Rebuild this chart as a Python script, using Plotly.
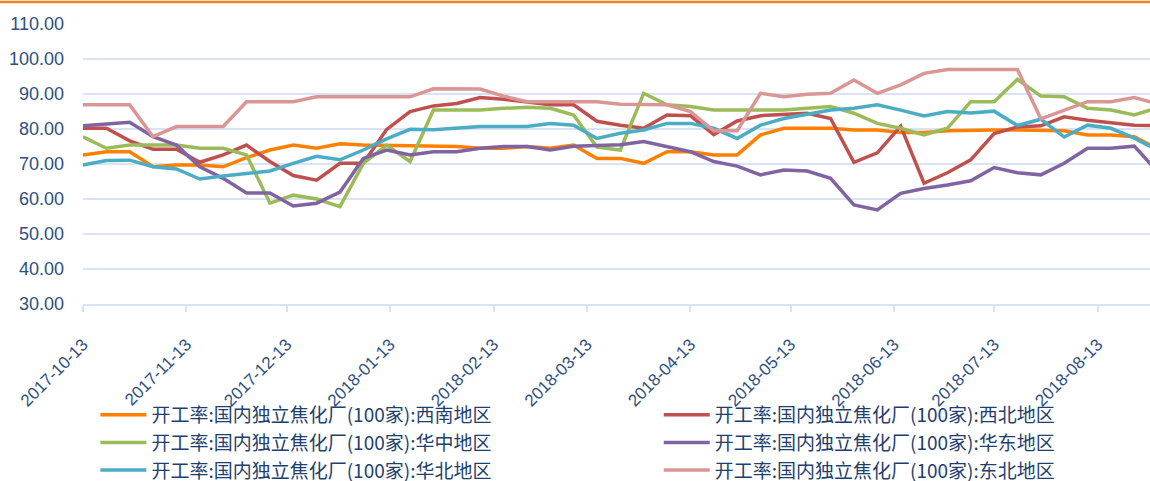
import pandas as pd
import plotly.graph_objects as go

dates = pd.date_range("2017-10-13", periods=47, freq="7D")

xinan = [72.6, 73.5, 73.5, 69.2, 69.7, 69.7, 69.2, 71.8, 74.0, 75.4, 74.5, 75.8, 75.4, 75.3, 75.1, 74.9,
         75.0, 74.5, 74.5, 75.0, 74.5, 75.4, 71.6, 71.6, 70.2, 73.5, 73.5, 72.6, 72.6, 78.3, 80.2, 80.2,
         80.2, 79.7, 79.7, 79.0, 79.0, 79.5, 79.7, 79.7, 79.7, 79.7, 79.5, 78.3, 78.3, 77.8, 74.3]
xibei = [80.2, 80.2, 76.6, 74.2, 74.2, 70.5, 72.6, 75.4, 70.7, 66.7, 65.4, 70.2, 70.2, 79.9, 85.0, 86.6,
         87.3, 89.0, 88.5, 87.8, 86.9, 86.9, 82.2, 81.1, 80.2, 84.0, 83.8, 78.4, 82.3, 83.8, 84.1, 84.5,
         83.0, 70.5, 73.2, 80.8, 64.5, 67.5, 71.2, 78.7, 80.6, 80.9, 83.5, 82.5, 81.8, 81.1, 80.9]
huazhong = [77.8, 74.5, 75.4, 75.4, 75.4, 74.5, 74.5, 72.6, 58.8, 61.1, 60.0, 57.8, 70.2, 75.4, 70.7, 85.4,
            85.4, 85.4, 85.9, 86.2, 85.9, 84.0, 74.8, 74.0, 90.2, 86.9, 86.4, 85.4, 85.4, 85.4, 85.4, 85.9,
            86.4, 84.5, 81.6, 80.2, 78.3, 80.2, 87.8, 87.8, 94.2, 89.4, 89.2, 85.9, 85.4, 84.0, 86.1]
huadong = [80.9, 81.4, 81.9, 77.8, 75.4, 69.2, 65.9, 61.7, 61.7, 58.0, 58.8, 62.0, 71.6, 74.0, 72.6, 73.5,
           73.5, 74.5, 75.0, 75.0, 74.0, 75.1, 75.4, 75.5, 76.4, 75.0, 73.5, 70.7, 69.4, 66.9, 68.3, 68.0,
           65.9, 58.3, 56.9, 61.6, 63.0, 64.0, 65.2, 69.0, 67.5, 66.9, 70.2, 74.5, 74.5, 75.1, 67.8]
huabei = [69.7, 71.0, 71.1, 69.2, 68.6, 65.7, 66.6, 67.3, 68.0, 70.2, 72.2, 71.2, 74.0, 77.2, 79.9, 79.8,
          80.2, 80.7, 80.7, 80.7, 81.6, 81.1, 77.3, 78.8, 79.7, 81.6, 81.6, 80.2, 77.3, 81.1, 83.0, 84.2,
          85.4, 85.9, 86.9, 85.4, 83.7, 85.0, 84.6, 85.1, 81.0, 82.8, 77.7, 81.1, 80.2, 77.4, 73.9]
dongbei = [86.9, 86.9, 86.9, 77.8, 80.7, 80.7, 80.7, 87.8, 87.8, 87.8, 89.2, 89.2, 89.2, 89.2, 89.2, 91.5,
           91.4, 91.4, 89.4, 87.8, 87.8, 87.8, 87.8, 87.1, 87.1, 86.9, 85.0, 79.5, 79.5, 90.2, 89.2, 89.9,
           90.2, 94.0, 90.2, 92.6, 95.9, 97.0, 97.0, 97.0, 97.0, 82.9, 85.4, 87.8, 87.8, 89.0, 87.2]

names = [
    "开工率:国内独立焦化厂(100家):西南地区",
    "开工率:国内独立焦化厂(100家):华中地区",
    "开工率:国内独立焦化厂(100家):华北地区",
    "开工率:国内独立焦化厂(100家):西北地区",
    "开工率:国内独立焦化厂(100家):华东地区",
    "开工率:国内独立焦化厂(100家):东北地区",
]
series = [xinan, huazhong, huabei, xibei, huadong, dongbei]
colors = ["#FF8000", "#9BBB59", "#4BACC6", "#C0504D", "#8064A2", "#DA9694"]
legend_ids = ["legend", "legend", "legend", "legend2", "legend2", "legend2"]

tick_dates = ["2017-10-13", "2017-11-13", "2017-12-13", "2018-01-13", "2018-02-13", "2018-03-13",
              "2018-04-13", "2018-05-13", "2018-06-13", "2018-07-13", "2018-08-13"]
y_ticks = [30, 40, 50, 60, 70, 80, 90, 100, 110]

fig = go.Figure()
draw_order = [0, 3, 1, 4, 2, 5]
for i in draw_order:
    fig.add_trace(go.Scatter(x=dates, y=series[i], name=names[i], mode="lines",
                             legend=legend_ids[i], legendrank=i,
                             line=dict(color=colors[i], width=3.5)))

grid = "#DAE3F3"
label_col = "#2E4F80"
leg_font = dict(size=19, color="#1F3F6E", family="Noto Sans CJK SC")
fig.update_layout(
    width=1150, height=481,
    margin=dict(l=83, r=0, t=24, b=177, autoexpand=False),
    plot_bgcolor="white", paper_bgcolor="white",
    font=dict(family="Liberation Sans, Noto Sans CJK SC", color=label_col),
    xaxis=dict(
        type="date",
        range=["2017-10-13", "2018-08-28 17:00"],
        tickvals=tick_dates, ticktext=tick_dates,
        tickangle=-45,
        tickfont=dict(size=17, color=label_col),
        showgrid=False, zeroline=False,
        showline=True, linecolor=grid, linewidth=2,
        ticks="outside", ticklen=6, tickcolor=grid, tickwidth=1.5,
        ticklabelstandoff=16,
    ),
    yaxis=dict(
        range=[30, 110], tickvals=y_ticks, tickformat=".2f",
        tickfont=dict(size=18, color=label_col),
        showgrid=True, gridcolor=grid, gridwidth=1.5,
        zeroline=False, showline=False, ticks="",
        ticklabelstandoff=18,
    ),
    legend=dict(
        orientation="v", x=0.0116, xanchor="left", y=-0.328, yanchor="top",
        font=leg_font, itemwidth=46, tracegroupgap=0, bgcolor="rgba(0,0,0,0)",
        traceorder="normal",
    ),
    legend2=dict(
        orientation="v", x=0.5396, xanchor="left", y=-0.328, yanchor="top",
        font=leg_font, itemwidth=46, tracegroupgap=0, bgcolor="rgba(0,0,0,0)",
        traceorder="normal",
    ),
    showlegend=True,
    shapes=[dict(type="line", xref="paper", yref="paper", x0=-0.1, x1=1.1,
                 y0=(304 - 2) / 280, y1=(304 - 2) / 280, line=dict(color="#F08424", width=2.5))],
)

fig.write_html("out.html", config={"displayModeBar": False},
               post_script="document.body.style.margin='0';")
